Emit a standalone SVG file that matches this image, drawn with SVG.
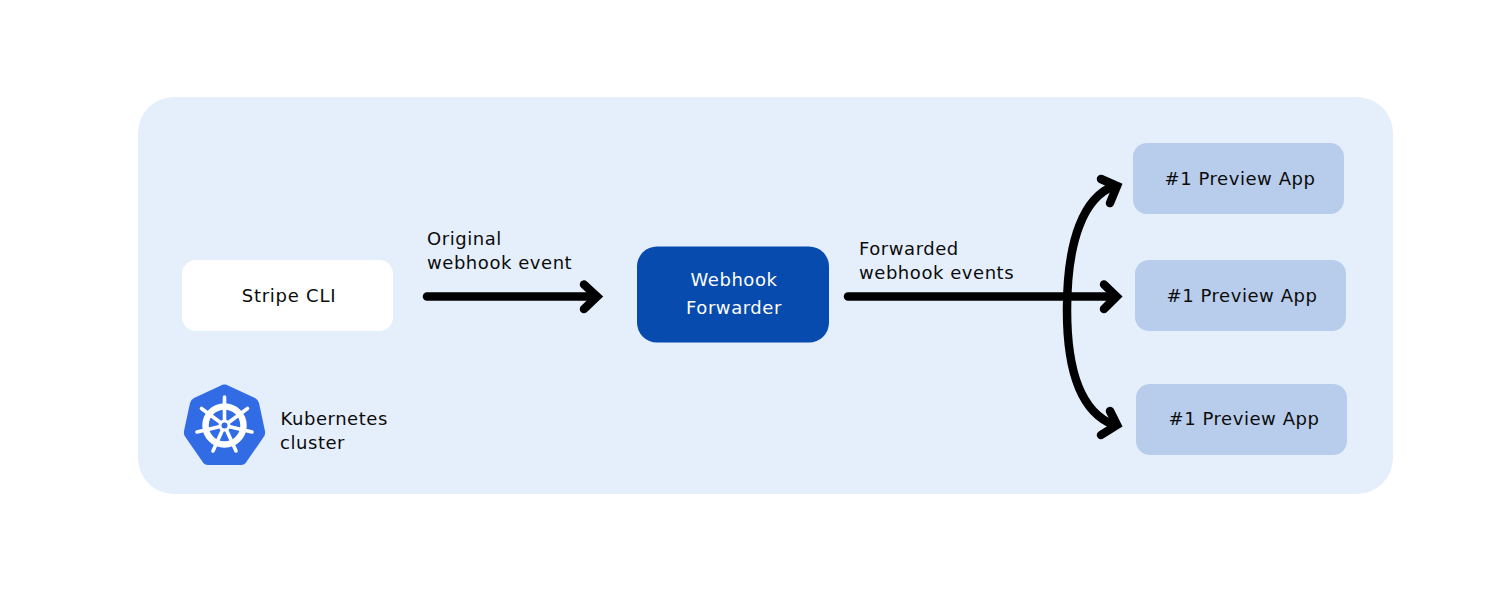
<svg xmlns="http://www.w3.org/2000/svg" width="1500" height="594" viewBox="0 0 1500 594">
<style>
text{font-family:"DejaVu Sans",Verdana,sans-serif;font-size:18px;fill:#0b0b0b;letter-spacing:.55px}
.c{text-anchor:middle}
.w{fill:#fff}
.app{fill:#b8cdec}
.line{fill:none;stroke:#000;stroke-width:8.500;stroke-linecap:round;stroke-linejoin:miter}
.spoke{stroke:#fff;stroke-width:3.600;stroke-linecap:round}
</style>
<rect width="1500" height="594" fill="#fff"/>
<g id="cluster">
<rect x="138" y="97" width="1255" height="397" rx="36" fill="#e5effc"/>
</g>
<g id="stripe-cli"><rect x="182" y="260" width="211" height="71" rx="14" class="w"/><text x="289" y="302" class="c" style="letter-spacing:.75px">Stripe CLI</text></g>
<g id="webhook-forwarder"><rect x="637" y="246.500" width="192" height="96" rx="20" fill="#074baf"/><text x="734" y="285.500" class="c w">Webhook</text><text x="734" y="313.500" class="c w">Forwarder</text></g>
<g id="preview-1"><rect x="1133" y="143" width="211" height="71" rx="14" class="app"/><text x="1240" y="184.500" class="c">#1 Preview App</text></g>
<g id="preview-2"><rect x="1135" y="260" width="211" height="71" rx="14" class="app"/><text x="1242" y="301.500" class="c">#1 Preview App</text></g>
<g id="preview-3"><rect x="1136" y="384" width="211" height="71" rx="14" class="app"/><text x="1244" y="425" class="c">#1 Preview App</text></g>
<g id="kubernetes-logo">
<path d="M224.500 384.500 Q226 384 228 385.500 L255 398 Q258 399.500 259 403 L265 431 Q265.500 434 264 436.500 L247 461 Q245 465 241 465 L208 465 Q204 465 202 461 L185 436.500 Q183.500 434 184 431 L190 403 Q191 399.500 194 398 L221 385.500 Q223 384 224.500 384.500Z" fill="#326ce5"/>
<circle cx="224.500" cy="425.500" r="19" fill="none" stroke="#fff" stroke-width="6.500"/>
<g class="spoke">
<line x1="224.500" y1="397" x2="224.500" y2="425"/>
<line x1="201.500" y1="408.500" x2="224.500" y2="425.500"/>
<line x1="247.500" y1="408.500" x2="224.500" y2="425.500"/>
<line x1="197" y1="432" x2="224.500" y2="425.500"/>
<line x1="252" y1="432" x2="224.500" y2="425.500"/>
<line x1="213" y1="451" x2="224.500" y2="425.500"/>
<line x1="236" y1="451" x2="224.500" y2="425.500"/>
</g>
<circle cx="224.500" cy="425.500" r="6" fill="#fff"/>
<circle cx="224.500" cy="425.500" r="3" fill="#326ce5"/>
<text x="280.500" y="425">Kubernetes</text><text x="280" y="449">cluster</text>
</g>
<g id="connectors">
<path class="line" d="M427 296.500H594"/>
<path class="line" d="M584 284.500L597 296.500L584 309"/>
<path class="line" d="M848 296.500H1112"/>
<path class="line" d="M1104 284.500L1116.500 296.500L1104 309"/>
<path class="line" d="M1114 186C1084 197 1067 240 1067 310C1067 370 1080 412 1114 425"/>
<path class="line" d="M1101 179L1117 186L1110 203"/>
<path class="line" d="M1110 411L1117 425L1101 435"/>
</g>
<g id="labels">
<text x="427" y="244.500">Original</text><text x="427" y="269">webhook event</text>
<text x="859" y="255">Forwarded</text><text x="859" y="279">webhook events</text>
</g>
</svg>
